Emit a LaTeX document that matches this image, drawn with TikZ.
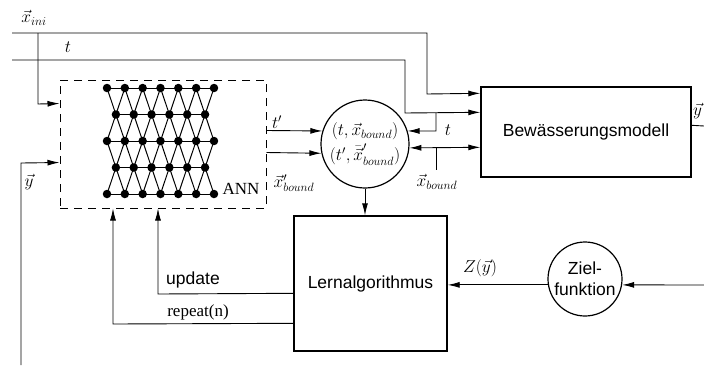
\documentclass[tikz,border=0pt]{standalone}
\usepackage{fontspec}
\setsansfont{Liberation Sans}
\newfontfamily\tmsfont{Liberation Serif}
\usetikzlibrary{arrows.meta}
\begin{document}
\begin{tikzpicture}[x=1pt,y=-1pt,
  every node/.style={font=\fontsize{17}{20}\selectfont},
  conn/.style={line width=0.9pt},
  arr/.style={conn,-{Latex[length=12pt,width=6pt]}},
  arrboth/.style={conn,{Latex[length=12pt,width=6pt]}-{Latex[length=12pt,width=6pt]}},
  blk/.style={draw,line width=1.4pt,rectangle,inner sep=0pt},
  rnd/.style={draw,line width=1.2pt,circle,inner sep=0pt},
  dot/.style={circle,fill,inner sep=0pt,minimum size=8.5pt},
  netline/.style={line width=1pt},
  lbl/.style={inner sep=1pt},
  sans/.style={font=\fontsize{17.5}{21}\selectfont\sffamily},
  serif/.style={font=\fontsize{17}{20}\selectfont\tmsfont},
]
\useasboundingbox (0,0) rectangle (704,365);

% main blocks
\node[blk,sans,minimum width=210pt,minimum height=90pt] (model) at (586,132) {Bewässerungsmodell};
\node[blk,sans,minimum width=153pt,minimum height=135pt] (lern) at (370.5,283.5) {Lernalgorithmus};
\node[draw,dash pattern=on 8pt off 6pt,line width=1pt,minimum width=206pt,minimum height=128pt,inner sep=0pt] (ann) at (163,144) {};
\node[rnd,minimum size=88pt,align=center,font=\fontsize{17}{25}\selectfont] (net) at (365,144) {$(t,\vec{x}_{bound})$\\$(t',\bar{\vec{x}}'_{bound})$};
\node[rnd,sans,minimum size=74pt,align=center] (ziel) at (585,279) {Ziel-\\funktion};

% neural network
\foreach \r/\yy in {1/88,3/141,5/194}
  \foreach \i in {0,...,6}
    \node[dot] (n-\r-\i) at ({107+17.83*\i},\yy) {};
\foreach \r/\yy in {2/114.5,4/167.5}
  \foreach \i in {0,...,5}
    \node[dot] (n-\r-\i) at ({115.9+17.83*\i},\yy) {};
\foreach \r in {1,3,5} \draw[netline] (n-\r-0.center) -- (n-\r-6.center);
\foreach \r in {2,4} \draw[netline] (n-\r-0.center) -- (n-\r-5.center);
\foreach \r/\a/\b in {2/1/3,4/3/5}
  \foreach \i [count=\j from 1] in {0,...,5} {
    \draw[netline] (n-\a-\i.center) -- (n-\r-\i.center) -- (n-\b-\i.center);
    \draw[netline] (n-\a-\j.center) -- (n-\r-\i.center) -- (n-\b-\j.center);
  }
\node[lbl,serif] (annlbl) at (241,189) {ANN};

% free ends
\coordinate (xiS) at (12,33);
\coordinate (xiB) at (38,33);
\coordinate (tS) at (12,60);
\coordinate (tB) at (436,113);
\coordinate (xbJ) at (436,148);
\coordinate (xbS) at (436,170);
\coordinate (yS) at (21,365);
\coordinate (yOut) at (704,126);
\coordinate (zIn) at (704,285);

% connectors
\draw[arr] (xiS) -- (427,33) -- (427,94) -- ([yshift=-7pt]model.north west);
\draw[arr] (xiB) -- (38,104) -- ([yshift=-24pt]ann.north west);
\draw[arr] (tS) -- (405,60) -- (405,113) -- ([yshift=-26pt]model.north west);
\draw[arr] (tB) -- (436,131) -- (net.17);
\draw[arrboth] (net.-5) -- ([yshift=-61pt]model.north west);
\draw[conn] (xbJ) -- (xbS);
\draw[arr] ([yshift=-51pt]ann.north east) -- (net.163);
\draw[arr] ([yshift=-73pt]ann.north east) -- (net.192);
\draw[arr] (net.south) -- (net.south |- lern.north);
\draw[arr] ([yshift=-78pt]lern.north west) -- (158,294) -- ([xshift=-5pt]ann.south);
\draw[arr] ([yshift=-108pt]lern.north west) -- (113,324) -- ([xshift=-50pt]ann.south);
\draw[arr] (yS) -- (21,163) -- ([yshift=-83pt]ann.north west);
\draw[conn] ([yshift=-39pt]model.north east) -- (yOut);
\draw[arr] (zIn) -- (ziel.-9);
\draw[arr] (ziel.189) -- (ziel.189 -| lern.east);

% labels
\node[lbl] (lxi) at (34,18) {$\vec{x}_{ini}$};
\node[lbl] (lt) at (68,47) {$t$};
\node[lbl] (ltp) at (277,122) {$t'$};
\node[lbl] (lxbp) at (294,183) {$\vec{x}'_{bound}$};
\node[lbl] (lt2) at (448,130) {$t$};
\node[lbl] (lxb) at (437,182) {$\vec{x}_{bound}$};
\node[lbl] (lyl) at (29,182) {$\vec{y}$};
\node[lbl,anchor=west] (lyr) at (692,111) {$\vec{y}$};
\node[lbl] (lz) at (480,268) {$Z(\vec{y})$};
\node[lbl,sans] (lupd) at (193,280) {update};
\node[lbl,serif] (lrep) at (198,312) {repeat(n)};
\end{tikzpicture}
\end{document}
